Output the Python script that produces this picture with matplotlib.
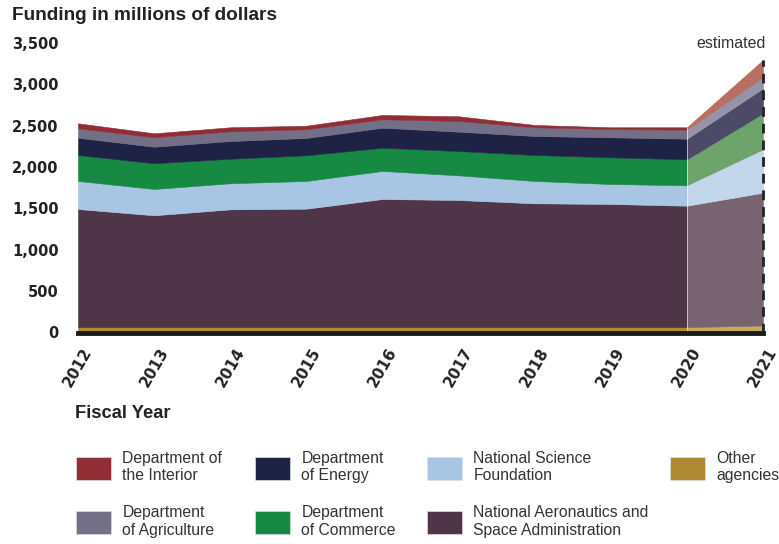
import matplotlib
matplotlib.use("Agg")
import matplotlib.pyplot as plt
from matplotlib.patches import Patch
from matplotlib.ticker import FuncFormatter

# roky a hodnoty (miliony dolarov), odcitane z grafu
years = [2012, 2013, 2014, 2015, 2016, 2017, 2018, 2019, 2020, 2021]
other = [65, 65, 65, 65, 65, 65, 65, 65, 65, 85]
nasa = [1428, 1352, 1424, 1432, 1549, 1537, 1497, 1489, 1468, 1605]
nsf = [339, 318, 315, 335, 339, 298, 270, 241, 247, 525]
commerce = [314, 311, 297, 310, 281, 294, 314, 323, 314, 435]
energy = [209, 200, 214, 210, 242, 234, 230, 242, 249, 302]
agriculture = [114, 114, 117, 105, 102, 129, 105, 100, 109, 133]
interior = [60, 48, 49, 43, 52, 57, 28, 21, 29, 210]

labels = ["Other\nagencies", "National Aeronautics and\nSpace Administration",
          "National Science\nFoundation", "Department\nof Commerce",
          "Department\nof Energy", "Department\nof Agriculture",
          "Department of\nthe Interior"]
series = [other, nasa, nsf, commerce, energy, agriculture, interior]
colors = ["#b08a32", "#4f3548", "#a8c6e4", "#168943", "#1e2345", "#736f87", "#922c35"]
colors_est = ["#c9aa62", "#786470", "#c2d6ec", "#6ea46c", "#4c4a66", "#9793a8", "#b86e62"]

plt.rcParams['font.family'] = ['Liberation Sans', 'DejaVu Sans']

fig = plt.figure(figsize=(7.79, 5.44), dpi=100)
ax = fig.add_axes([78/779, 1 - 332.5/544, (763-78)/779, (332.5-43)/544])

# skutocne roky 2012-2020
n = len(years) - 1
ax.stackplot(years[:n], [s[:n] for s in series], colors=colors, linewidth=0.4,
             edgecolor="face")
# odhad 2020-2021
ax.stackplot(years[n-1:], [s[n-1:] for s in series], colors=colors_est, linewidth=0.4,
             edgecolor="face")

tot = [sum(v) for v in zip(*series)]
ax.vlines(years[n-1], 0, tot[n-1], colors="white", lw=0.7, alpha=0.6)
ax.vlines(years[-1], 0, tot[-1], colors="#222222", linestyles=(0, (3.5, 2.5)), lw=2,
          clip_on=False, zorder=5)
ax.text(years[-1] + 0.03, 3488, "estimated", ha="right", va="center", fontsize=11.5,
        color="#333333")

ax.set_xlim(years[0], years[-1])
ax.set_ylim(0, 3500)
ax.set_yticks(range(0, 3501, 500))
ax.yaxis.set_major_formatter(FuncFormatter(lambda v, p: f"{int(v):,}"))
ax.set_xticks(years)
ax.set_xticklabels([str(y) for y in years], rotation=60, ha="center", va="top")
for t in ax.get_yticklabels() + ax.get_xticklabels():
    t.set_fontweight("bold")
    t.set_family("DejaVu Sans")
    t.set_fontsize(10.5)
    t.set_color("#222222")
for t in ax.get_xticklabels():
    t.set_fontsize(11)
ax.tick_params(axis="y", length=0, pad=14)
ax.tick_params(axis="x", length=0, pad=9)

for s in ["top", "right", "left"]:
    ax.spines[s].set_visible(False)
ax.spines["bottom"].set_linewidth(3.5)
ax.spines["bottom"].set_color("#1a1a1a")
ax.spines["bottom"].set_zorder(4)

fig.text(12/779, 1 - 16/544, "Funding in millions of dollars", fontsize=13.7,
         fontweight="bold", color="#222222", va="center")
fig.text(75/779, 1 - 414/544, "Fiscal Year", fontsize=13.2, fontweight="bold",
         color="#222222", va="center")

# legenda: 4 stlpce, kazdy zvlast (nerovnake medzery ako v predlohe)
columns = [[6, 5], [4, 3], [2, 1], [0]]
col_x = [76, 255, 427, 670]
for col, x0 in zip(columns, col_x):
    handles = [Patch(facecolor=colors[i], edgecolor="#dddddd", linewidth=0.5) for i in col]
    leg = fig.legend(handles, [labels[i] for i in col], ncol=1, loc="upper left",
                     bbox_to_anchor=(x0/779, 1 - 451/544), frameon=False, fontsize=11.3,
                     borderpad=0, borderaxespad=0,
                     handlelength=2.2, handleheight=1.9, handletextpad=0.75,
                     labelspacing=1.4, labelcolor="#333333")

fig.savefig("out.png", dpi=100)
